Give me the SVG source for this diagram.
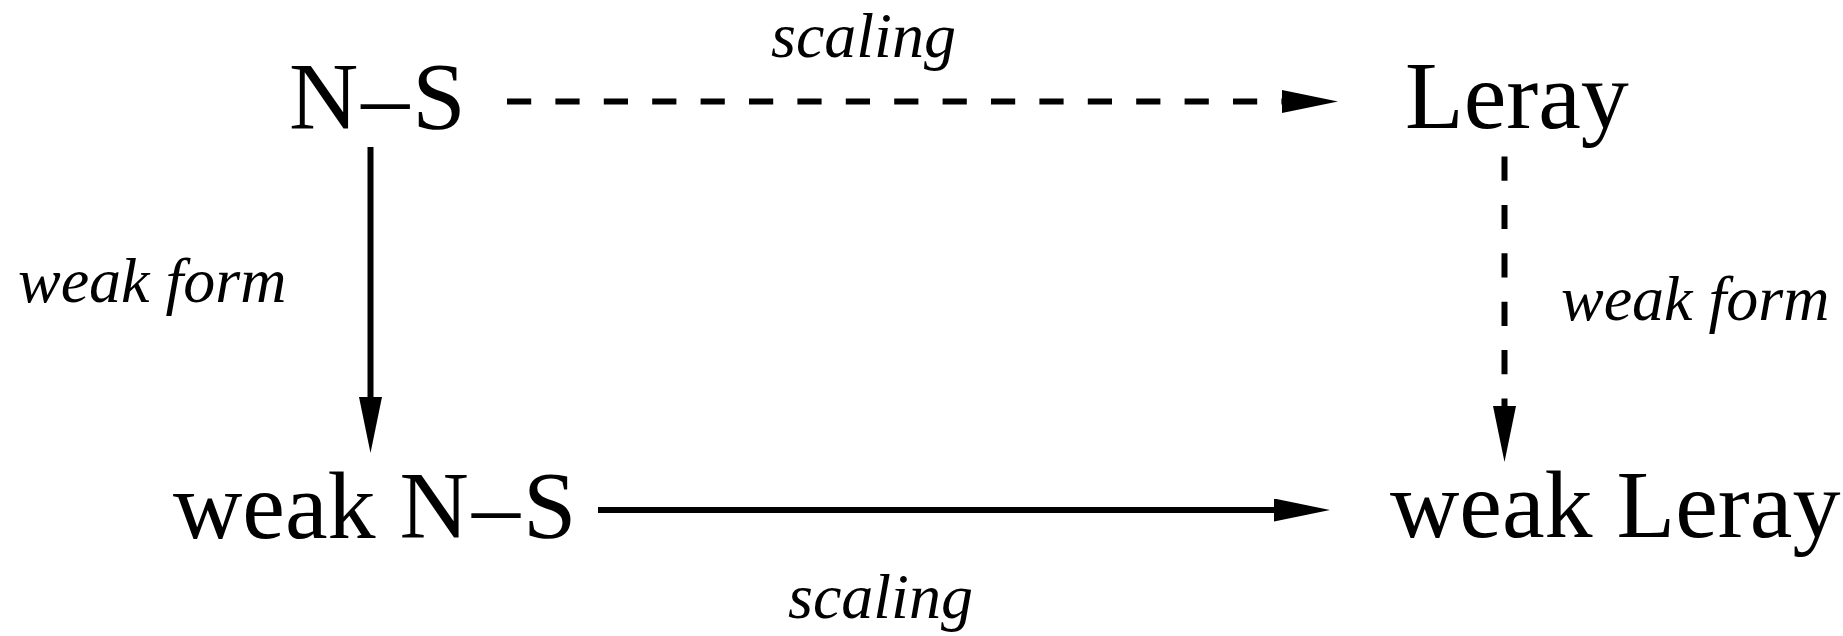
<svg xmlns="http://www.w3.org/2000/svg" width="1843" height="636" viewBox="0 0 1843 636">
<style>
.node{font-family:"Liberation Serif","Times New Roman",serif;font-size:96px;fill:#000}
.ns{letter-spacing:3px}
.lbl{font-family:"Liberation Serif","Times New Roman",serif;font-style:italic;font-size:64px;fill:#000}
.edge{stroke:#000;stroke-width:6;fill:none}
.dash{stroke-dasharray:24.2 24.2}
</style>
<defs>
<marker id="ah" markerUnits="userSpaceOnUse" viewBox="0 0 56 23" markerWidth="56" markerHeight="23" refX="0" refY="11.5" orient="auto">
<path d="M0,0 L56,11.5 L0,23 z" fill="#000"/>
</marker>
</defs>
<rect width="1843" height="636" fill="#fff"/>
<g id="connectors">
<line class="edge dash" x1="507" y1="101.5" x2="1282" y2="101.5" marker-end="url(#ah)"/>
<line class="edge" x1="370.5" y1="147" x2="370.5" y2="397" marker-end="url(#ah)"/>
<line class="edge dash" x1="1504.5" y1="156.5" x2="1504.5" y2="406" marker-end="url(#ah)"/>
<line class="edge" x1="598" y1="510" x2="1274" y2="510" marker-end="url(#ah)"/>
<text class="lbl" x="771" y="57">scaling</text>
<text class="lbl" x="18" y="302">weak form</text>
<text class="lbl" x="1561" y="320">weak form</text>
<text class="lbl" x="788" y="618">scaling</text>
</g>
<g id="node-ns"><text class="node" x="289" y="129"><tspan class="ns">N–S</tspan></text></g>
<g id="node-leray"><text class="node" x="1405" y="128">Leray</text></g>
<g id="node-weak-ns"><text class="node" x="173" y="538">weak <tspan class="ns">N–S</tspan></text></g>
<g id="node-weak-leray"><text class="node" x="1390" y="537">weak Leray</text></g>
</svg>
